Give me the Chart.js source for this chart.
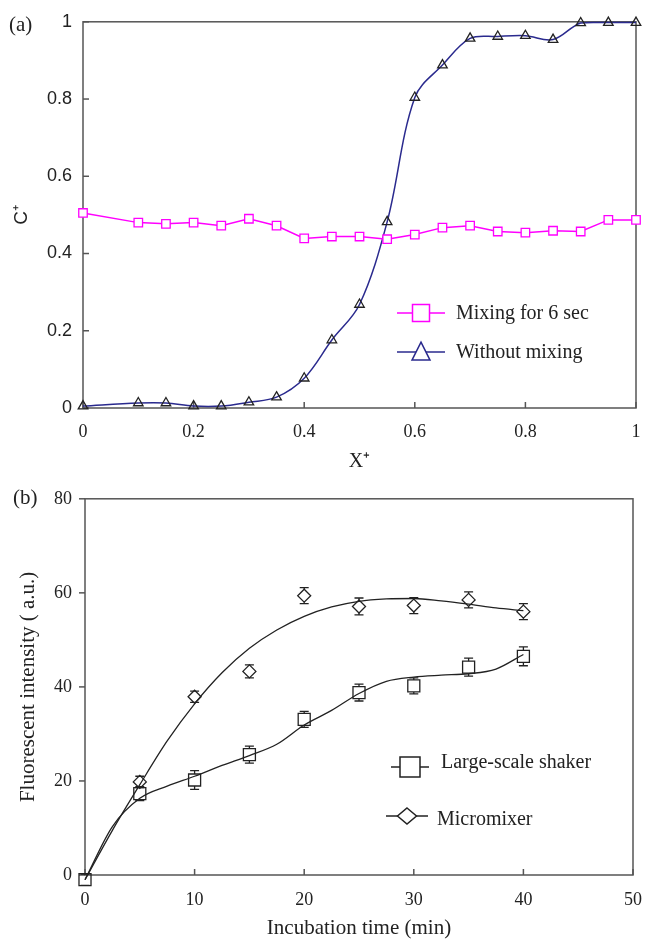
<!DOCTYPE html>
<html>
<head>
<meta charset="utf-8">
<script src="https://cdn.jsdelivr.net/npm/chart.js@4"></script>
<style>
body { margin: 0; background: #fff; width: 656px; height: 941px; overflow: hidden; position: relative; }
.box { position: absolute; left: 0; width: 656px; }
.tag { position: absolute; font-family: 'Liberation Serif', serif; font-size: 21px; color: #222; }
</style>
</head>
<body>
<div class="box" style="top:0;height:475px"><canvas id="chartA" width="656" height="475"></canvas></div>
<div class="box" style="top:475px;height:466px"><canvas id="chartB" width="656" height="466"></canvas></div>
<div class="tag" style="left:9px;top:12px">(a)</div>
<div class="tag" style="left:13px;top:485px">(b)</div>
<script>
// panel (a)
const posA = [0, 0.1, 0.15, 0.2, 0.25, 0.3, 0.35, 0.4, 0.45, 0.5, 0.55, 0.6, 0.65, 0.7, 0.75, 0.8, 0.85, 0.9, 0.95, 1];
const mixing6s = [0.505, 0.48, 0.477, 0.48, 0.472, 0.49, 0.472, 0.439, 0.444, 0.444, 0.437, 0.449, 0.467, 0.472, 0.457, 0.454, 0.459, 0.457, 0.487, 0.487];
const noMixing = [0.005, 0.013, 0.013, 0.005, 0.005, 0.015, 0.028, 0.077, 0.176, 0.268, 0.482, 0.804, 0.888, 0.957, 0.962, 0.964, 0.954, 0.997, 0.998, 0.998];
const ticksA = [0, 0.2, 0.4, 0.6, 0.8, 1];

// panel (b)
const timeShaker = [0, 5, 10, 15, 20, 25, 30, 35, 40];
const shaker = [-1, 17.3, 20.2, 25.6, 33.1, 38.8, 40.2, 44.2, 46.5];
const shakerErr = [1.2, 1.5, 2.0, 1.8, 1.7, 1.8, 1.7, 1.9, 2.0];
const timeMicro = [5, 10, 15, 20, 25, 30, 35, 40];
const micro = [19.8, 37.9, 43.3, 59.4, 57.1, 57.3, 58.5, 56.0];
const microErr = [1.2, 1.2, 1.4, 1.7, 1.8, 1.7, 1.7, 1.7];
const fitTime = [0, 2.5, 5, 7.5, 10, 12.5, 15, 17.5, 20, 22.5, 25, 27.5, 30, 32.5, 35, 37.5, 40];
const shakerFit = [-1, 10.3, 16.3, 18.9, 21.0, 23.3, 25.4, 27.8, 31.9, 35.0, 38.6, 41.2, 42.1, 42.5, 42.8, 43.8, 46.9];
const microFit = [-1, 9.5, 19.2, 28.5, 36.4, 43.0, 48.2, 52.1, 55.0, 57.0, 58.2, 58.7, 58.8, 58.3, 57.6, 56.8, 56.2];
const ticksB = [0, 20, 40, 60, 80];
const ticksBx = [0, 10, 20, 30, 40, 50];

const pts = (xs, ys) => xs.map((x, i) => ({ x: x, y: ys[i] }));
const serif = 'Liberation Serif';
const sans = 'Liberation Sans';

function shape(ctx, style, x, y, s) {
    ctx.beginPath();
    if (style === 'rect') {
        ctx.rect(x - s / 2, y - s / 2, s, s);
    } else if (style === 'triangle') {
        ctx.moveTo(x, y - s * 0.55);
        ctx.lineTo(x + s / 2, y + s * 0.45);
        ctx.lineTo(x - s / 2, y + s * 0.45);
        ctx.closePath();
    } else {
        ctx.moveTo(x, y - s * 0.42);
        ctx.lineTo(x + s / 2, y);
        ctx.lineTo(x, y + s * 0.42);
        ctx.lineTo(x - s / 2, y);
        ctx.closePath();
    }
    ctx.fillStyle = '#fff';
    ctx.fill();
    ctx.stroke();
}

// frame, tick marks, error bars and key
const extras = {
    id: 'extras',
    beforeDatasetsDraw(chart, args, opts) {
        const ctx = chart.ctx, a = chart.chartArea, sx = chart.scales.x, sy = chart.scales.y;
        ctx.save();
        ctx.strokeStyle = '#555';
        ctx.lineWidth = 1.5;
        ctx.strokeRect(a.left, a.top, a.right - a.left, a.bottom - a.top);
        opts.xTicks.forEach(v => {
            const p = sx.getPixelForValue(v);
            ctx.beginPath(); ctx.moveTo(p, a.bottom); ctx.lineTo(p, a.bottom - 6); ctx.stroke();
        });
        opts.yTicks.forEach(v => {
            const p = sy.getPixelForValue(v);
            ctx.beginPath(); ctx.moveTo(a.left, p); ctx.lineTo(a.left + opts.yTickDir * 6, p); ctx.stroke();
        });
        // error bars, stopping at the marker edge
        ctx.strokeStyle = '#222';
        ctx.lineWidth = 1.3;
        chart.data.datasets.forEach((ds, i) => {
            if (!ds.errors) return;
            chart.getDatasetMeta(i).data.forEach((el, j) => {
                const v = ds.data[j].y, e = ds.errors[j], g = ds.errGap;
                const t = sy.getPixelForValue(v + e), b = sy.getPixelForValue(v - e);
                ctx.beginPath();
                if (t < el.y - g) { ctx.moveTo(el.x, t); ctx.lineTo(el.x, el.y - g); }
                if (b > el.y + g) { ctx.moveTo(el.x, el.y + g); ctx.lineTo(el.x, b); }
                ctx.moveTo(el.x - 4.5, t); ctx.lineTo(el.x + 4.5, t);
                ctx.moveTo(el.x - 4.5, b); ctx.lineTo(el.x + 4.5, b);
                ctx.stroke();
            });
        });
        ctx.restore();
    },
    afterDraw(chart, args, opts) {
        const ctx = chart.ctx;
        ctx.save();
        opts.key.forEach(k => {
            ctx.strokeStyle = k.color;
            ctx.lineWidth = 1.5;
            ctx.beginPath(); ctx.moveTo(k.x0, k.y); ctx.lineTo(k.x1, k.y); ctx.stroke();
            shape(ctx, k.style, (k.x0 + k.x1) / 2, k.y, k.size);
            ctx.fillStyle = '#222';
            ctx.font = '20px ' + serif;
            ctx.textBaseline = 'middle';
            ctx.fillText(k.text, k.tx, k.ty);
        });
        ctx.restore();
    }
};

Chart.defaults.color = '#222';

new Chart(document.getElementById('chartA'), {
    type: 'line',
    data: {
        datasets: [
            {
                label: 'Mixing for 6 sec',
                data: pts(posA, mixing6s),
                borderColor: '#ff00ff',
                borderWidth: 1.5,
                pointStyle: 'rect',
                pointRadius: 6,
                pointBorderWidth: 1.3,
                pointBorderColor: '#ff00ff',
                pointBackgroundColor: '#fff',
                tension: 0,
                clip: false
            },
            {
                label: 'Without mixing',
                data: pts(posA, noMixing),
                borderColor: '#2a2a8e',
                borderWidth: 1.5,
                pointStyle: 'triangle',
                pointRadius: 5.5,
                pointBorderWidth: 1.3,
                pointBorderColor: '#222',
                pointBackgroundColor: 'rgba(255,255,255,0)',
                tension: 0.35,
                clip: false
            }
        ]
    },
    options: {
        responsive: false,
        animation: false,
        layout: { padding: { top: 16, right: 20, left: 0, bottom: 0 } },
        plugins: {
            legend: { display: false },
            tooltip: { enabled: false },
            extras: {
                xTicks: ticksA, yTicks: ticksA, yTickDir: 1,
                key: [
                    { text: 'Mixing for 6 sec', color: '#ff00ff', style: 'rect', size: 17, x0: 397, x1: 445, y: 313, tx: 456, ty: 314 },
                    { text: 'Without mixing', color: '#2a2a8e', style: 'triangle', size: 18, x0: 397, x1: 445, y: 352, tx: 456, ty: 353 }
                ]
            }
        },
        scales: {
            x: {
                type: 'linear', min: 0, max: 1,
                afterBuildTicks: s => { s.ticks = ticksA.map(v => ({ value: v })); },
                afterFit: s => { s.height = 67; },
                ticks: { font: { family: serif, size: 18 }, padding: 13, callback: v => String(+v.toFixed(1)) },
                grid: { display: false, drawTicks: false },
                border: { display: false },
                title: { display: true, text: 'X⁺', font: { family: serif, size: 20 }, padding: { top: 0, bottom: 1 } }
            },
            y: {
                min: 0, max: 1,
                afterBuildTicks: s => { s.ticks = ticksA.map(v => ({ value: v })); },
                afterFit: s => { s.width = 83; },
                ticks: { font: { family: sans, size: 18 }, padding: 11, callback: v => String(+v.toFixed(1)) },
                grid: { display: false, drawTicks: false },
                border: { display: false },
                title: { display: true, text: 'C⁺', font: { family: sans, size: 19 }, padding: { top: 10, bottom: 0 } }
            }
        }
    },
    plugins: [extras]
});

new Chart(document.getElementById('chartB'), {
    type: 'line',
    data: {
        datasets: [
            {
                label: 'shaker fit',
                data: pts(fitTime, shakerFit),
                borderColor: '#222', borderWidth: 1.3,
                pointRadius: 0, cubicInterpolationMode: 'monotone', clip: false
            },
            {
                label: 'micromixer fit',
                data: pts(fitTime, microFit),
                borderColor: '#222', borderWidth: 1.3,
                pointRadius: 0, cubicInterpolationMode: 'monotone', clip: false
            },
            {
                label: 'Large-scale shaker',
                data: pts(timeShaker, shaker),
                errors: shakerErr,
                errGap: 6,
                showLine: false,
                pointStyle: 'rect',
                pointRadius: 8.5,
                pointBorderWidth: 1.3,
                pointBorderColor: '#222',
                pointBackgroundColor: 'rgba(255,255,255,0)',
                clip: false
            },
            {
                label: 'Micromixer',
                data: pts(timeMicro, micro),
                errors: microErr,
                errGap: 6.5,
                showLine: false,
                pointStyle: 'rectRot',
                pointRadius: 6.5,
                pointBorderWidth: 1.3,
                pointBorderColor: '#222',
                pointBackgroundColor: 'rgba(255,255,255,0)',
                clip: false
            }
        ]
    },
    options: {
        responsive: false,
        animation: false,
        layout: { padding: { top: 14, right: 22, left: 0, bottom: 0 } },
        plugins: {
            legend: { display: false },
            tooltip: { enabled: false },
            extras: {
                xTicks: ticksBx, yTicks: ticksB, yTickDir: -1,
                key: [
                    { text: 'Large-scale shaker', color: '#222', style: 'rect', size: 20, x0: 391, x1: 429, y: 292, tx: 441, ty: 288 },
                    { text: 'Micromixer', color: '#222', style: 'diamond', size: 19, x0: 386, x1: 428, y: 341, tx: 437, ty: 345 }
                ]
            }
        },
        scales: {
            x: {
                type: 'linear', min: 0, max: 50,
                afterBuildTicks: s => { s.ticks = ticksBx.map(v => ({ value: v })); },
                afterFit: s => { s.height = 66; },
                ticks: { font: { family: serif, size: 18 }, padding: 14 },
                grid: { display: false, drawTicks: false },
                border: { display: false },
                title: { display: true, text: 'Incubation time (min)', font: { family: serif, size: 21 }, padding: { top: 0, bottom: 0 } }
            },
            y: {
                min: 0, max: 80,
                afterBuildTicks: s => { s.ticks = ticksB.map(v => ({ value: v })); },
                afterFit: s => { s.width = 85; },
                ticks: { font: { family: serif, size: 18 }, padding: 13 },
                grid: { display: false, drawTicks: false },
                border: { display: false },
                title: { display: true, text: 'Fluorescent intensity ( a.u.)', font: { family: serif, size: 21 }, padding: { top: 16, bottom: 0 } }
            }
        }
    },
    plugins: [extras]
});
</script>
</body>
</html>
